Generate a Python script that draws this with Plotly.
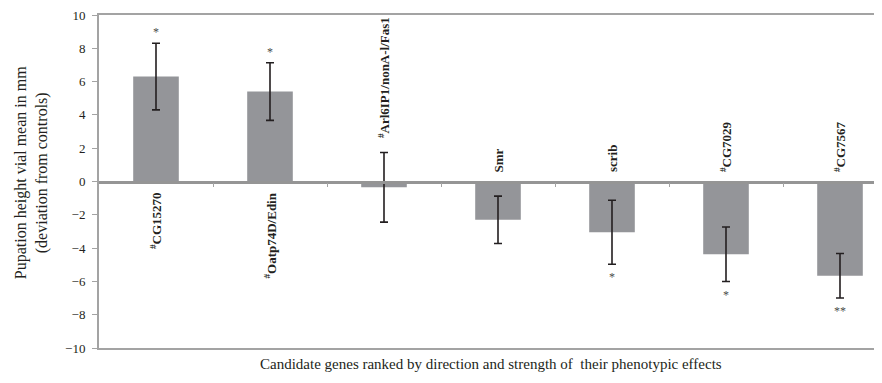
import plotly.graph_objects as go

genes = ["<sup>#</sup>CG15270", "<sup>#</sup>Oatp74D/Edin", "<sup>#</sup>Arl6IP1/nonA-l/Fas1",
         "Smr", "scrib", "<sup>#</sup>CG7029", "<sup>#</sup>CG7567"]
means = [6.3, 5.4, -0.35, -2.3, -3.05, -4.37, -5.66]
errors = [2.0, 1.73, 2.09, 1.42, 1.92, 1.64, 1.34]
signif = ["*", "*", "", "", "*", "*", "**"]
y_ticks = [-10, -8, -6, -4, -2, 0, 2, 4, 6, 8, 10]

FONT = "Liberation Serif"
LINE = "#a3a3a3"
xs = list(range(len(genes)))
xrange_ = [-0.5, len(genes) - 0.5 - 15 / 114]

fig = go.Figure()
fig.add_trace(go.Bar(
    x=xs, y=means, width=0.4,
    marker=dict(color="#949599", line=dict(width=0)),
    error_y=dict(type="data", array=errors, color="#231f20", thickness=1.6, width=4),
    showlegend=False, hoverinfo="skip",
))
# invisible helper so the zero-crossing category axis is drawn
fig.add_trace(go.Scatter(x=[0], y=[0], xaxis="x2", mode="markers",
                         marker=dict(opacity=0), showlegend=False, hoverinfo="skip"))

label_font = dict(family=FONT, size=13, color="#231f20", weight="bold")
star_font = dict(family=FONT, size=12, color="#4a4a4a")

annotations = []
for i, (g, m, e, s) in enumerate(zip(genes, means, errors, signif)):
    if m >= 0:
        annotations.append(dict(x=i, y=0, text=g, textangle=-90, showarrow=False,
                                xanchor="center", yanchor="top", yshift=-9,
                                font=label_font, xref="x", yref="y"))
        if s:
            annotations.append(dict(x=i, y=m + e, text=s, showarrow=False,
                                    xanchor="center", yanchor="bottom", yshift=2,
                                    font=star_font, xref="x", yref="y"))
    else:
        base = max(0, m + e)
        annotations.append(dict(x=i, y=base, text=g, textangle=-90, showarrow=False,
                                xanchor="center", yanchor="bottom",
                                yshift=7 if base == 0 else 12,
                                font=label_font, xref="x", yref="y"))
        if s:
            annotations.append(dict(x=i, y=m - e, text=s, showarrow=False,
                                    xanchor="center", yanchor="top", yshift=-4,
                                    font=star_font, xref="x", yref="y"))

annotations.append(dict(x=-0.0868, y=0.525, xref="paper", yref="paper",
                        text="Pupation height vial mean in mm<br>(deviation from controls)",
                        textangle=-90, showarrow=False, xanchor="center", yanchor="middle",
                        font=dict(family=FONT, size=16, color="#231f20")))
annotations.append(dict(x=0.5, y=-0.048, xref="paper", yref="paper",
                        text="Candidate genes ranked by direction and strength of  their phenotypic effects",
                        showarrow=False, xanchor="center", yanchor="middle",
                        font=dict(family=FONT, size=15, color="#231f20")))

fig.update_layout(
    width=874, height=375,
    margin=dict(l=91, r=0, t=5, b=35),
    paper_bgcolor="white", plot_bgcolor="white",
    font=dict(family=FONT, color="#231f20"),
    bargap=0.6,
    annotations=annotations,
    xaxis=dict(range=xrange_, showgrid=False, zeroline=False, showline=True,
               mirror=True, linecolor=LINE, linewidth=2, ticks="",
               showticklabels=False, fixedrange=True),
    xaxis2=dict(range=xrange_, overlaying="x", anchor="free", position=0.5,
                showgrid=False, zeroline=False, showline=True, linecolor="#959595",
                linewidth=2.5, ticks="outside", ticklen=4, tickcolor=LINE, tickwidth=1,
                tickmode="array", tickvals=[i + 0.5 for i in xs[:-1]],
                showticklabels=False),
    yaxis=dict(range=[-10, 10], tickmode="array", tickvals=y_ticks,
               showgrid=False, zeroline=False, showline=True, linecolor=LINE,
               linewidth=2, ticks="outside", ticklen=5, tickcolor=LINE, tickwidth=1,
               ticklabeloverflow="allow", ticklabelstandoff=4,
               tickfont=dict(family=FONT, size=13, color="#231f20")),
)

fig.write_html("out.html")
